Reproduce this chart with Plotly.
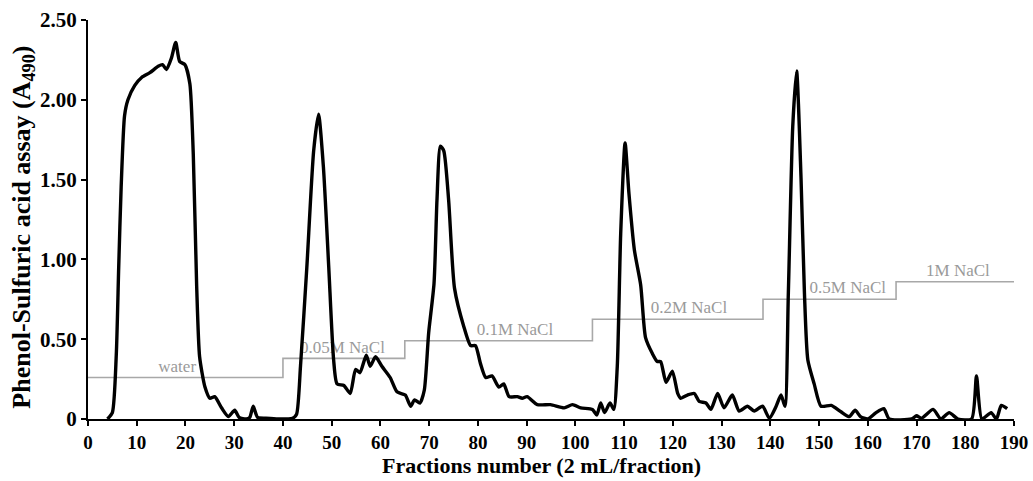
import plotly.graph_objects as go

# Elution profile (fraction number, A490)
fraction = [4.0, 5.0, 5.8, 6.3, 6.8, 7.5, 8.2, 9.6, 11.0, 12.7, 14.4, 15.3, 16.1, 17.1, 18.0, 18.8,
            19.9, 20.9, 21.6, 22.3, 22.9, 24.0, 25.0, 26.0, 27.4, 28.8, 30.1, 31.0, 32.5, 33.2, 33.9,
            34.8, 36.5, 39.0, 42.0, 42.8, 43.6, 44.9, 46.3, 47.3, 48.3, 49.4, 50.4, 51.1, 52.5, 53.8,
            54.9, 55.8, 57.1, 57.9, 59.0, 60.3, 62.0, 63.4, 65.1, 66.2, 67.0, 68.1, 69.0, 69.9, 71.0,
            71.6, 72.3, 73.0, 74.0, 75.2, 77.1, 78.5, 79.5, 80.5, 81.6, 82.9, 84.3, 85.3, 86.4, 88.1,
            89.1, 90.1, 92.2, 94.9, 97.7, 99.4, 101.1, 103.5, 104.4, 105.2, 106.0, 107.1, 107.9, 108.6,
            109.3, 110.2, 111.0, 112.1, 113.4, 114.4, 115.8, 116.8, 117.5, 118.6, 119.9, 121.0, 121.6,
            123.0, 124.4, 125.4, 126.8, 127.8, 129.2, 130.5, 132.2, 133.6, 135.3, 136.7, 138.4, 139.8,
            141.2, 142.2, 143.0, 143.7, 144.6, 145.4, 146.3, 147.0, 147.7, 149.0, 150.4, 152.5, 154.5,
            156.2, 157.4, 158.5, 160.0, 161.7, 163.3, 164.4, 169.0, 170.0, 171.0, 173.4, 175.0, 176.7,
            178.5, 181.3, 182.3, 183.4, 185.3, 186.4, 187.4, 188.6]
absorbance = [0.0, 0.04, 0.40, 0.95, 1.45, 1.90, 2.00, 2.09, 2.14, 2.17, 2.21, 2.22, 2.19, 2.26, 2.36, 2.24,
              2.22, 2.10, 1.66, 0.83, 0.39, 0.20, 0.13, 0.14, 0.07, 0.015, 0.055, 0.01, 0.0, 0.01, 0.08,
              0.01, 0.005, 0.0, 0.005, 0.03, 0.33, 0.95, 1.68, 1.91, 1.58, 0.95, 0.37, 0.22, 0.21, 0.16,
              0.31, 0.29, 0.40, 0.33, 0.39, 0.33, 0.26, 0.17, 0.15, 0.08, 0.12, 0.10, 0.18, 0.54, 0.85,
              1.37, 1.71, 1.68, 1.37, 0.82, 0.58, 0.46, 0.46, 0.35, 0.26, 0.27, 0.20, 0.22, 0.14, 0.14,
              0.13, 0.14, 0.09, 0.09, 0.07, 0.09, 0.07, 0.06, 0.025, 0.10, 0.04, 0.10, 0.06, 0.33,
              1.16, 1.73, 1.41, 1.06, 0.84, 0.51, 0.41, 0.36, 0.36, 0.23, 0.30, 0.16, 0.13,
              0.15, 0.16, 0.11, 0.10, 0.06, 0.16, 0.07, 0.15, 0.05, 0.08, 0.05, 0.08, 0.005,
              0.08, 0.15, 0.08, 0.79, 1.83, 2.18, 1.51, 0.79, 0.37, 0.22, 0.08, 0.085, 0.045,
              0.015, 0.055, 0.015, 0.0, 0.04, 0.065, 0.0, 0.0, 0.02, 0.005, 0.06, 0.0, 0.04,
              0.0, 0.0, 0.27, 0.0, 0.04, 0.0, 0.085, 0.065]

# Salt gradient steps
step_x = [0, 40, 65, 103.5, 138.5, 165.8, 190]
step_y = [0.26, 0.38, 0.49, 0.625, 0.75, 0.86, 0.86]
step_labels = ["water", "0.05M NaCl", "0.1M NaCl", "0.2M NaCl", "0.5M NaCl", "1M NaCl"]
label_x = [18.3, 52.2, 87.6, 123.3, 155.9, 178.5]
label_y = [0.32, 0.44, 0.555, 0.69, 0.815, 0.92]

x_ticks = list(range(0, 191, 10))
y_ticks = [0, 0.5, 1.0, 1.5, 2.0, 2.5]
y_ticktext = ["0", "0.50", "1.00", "1.50", "2.00", "2.50"]

SERIF = "Liberation Serif, Times New Roman, serif"

fig = go.Figure()
fig.add_trace(go.Scatter(x=step_x, y=step_y, mode="lines", line=dict(color="#a8a8a8", width=1.6, shape="hv"),
                         hoverinfo="skip", showlegend=False))
fig.add_trace(go.Scatter(x=label_x, y=label_y, mode="text", text=step_labels,
                         textfont=dict(family=SERIF, size=17, color="#9a9a9a"),
                         textposition="middle center", showlegend=False, hoverinfo="skip"))
fig.add_trace(go.Scatter(x=fraction, y=absorbance, mode="lines",
                         line=dict(color="black", width=3.4, shape="spline", smoothing=0.6),
                         showlegend=False))

fig.update_layout(
    width=1033, height=481,
    margin=dict(l=88, r=19, t=20, b=62, autoexpand=False),
    paper_bgcolor="white", plot_bgcolor="white",
    font=dict(family=SERIF, color="black"),
    xaxis=dict(range=[0, 190], tickvals=x_ticks, showline=True, linecolor="black", linewidth=2,
               ticks="outside", ticklen=5, tickwidth=2, tickcolor="black", showgrid=False, zeroline=False,
               automargin=False,
               tickfont=dict(family=SERIF, size=19, color="black", weight="bold")),
    yaxis=dict(range=[0, 2.5], tickvals=y_ticks, ticktext=y_ticktext, showline=True, linecolor="black",
               linewidth=2, ticks="outside", ticklen=5, tickwidth=2, tickcolor="black", showgrid=False,
               zeroline=False, automargin=False,
               tickfont=dict(family=SERIF, size=21, color="black", weight="bold")),
    annotations=[
        dict(text="<b>Phenol-Sulfuric acid assay (A<sub>490</sub>)</b>", xref="paper", yref="paper",
             x=-0.07, y=0.48, textangle=-90, showarrow=False, xanchor="center", yanchor="middle",
             font=dict(family=SERIF, size=26, color="black")),
        dict(text="<b>Fractions number (2 mL/fraction)</b>", xref="paper", yref="paper",
             x=0.49, y=-0.153, showarrow=False, xanchor="center", yanchor="bottom",
             font=dict(family=SERIF, size=22, color="black")),
    ],
)

fig.write_html("out.html")
